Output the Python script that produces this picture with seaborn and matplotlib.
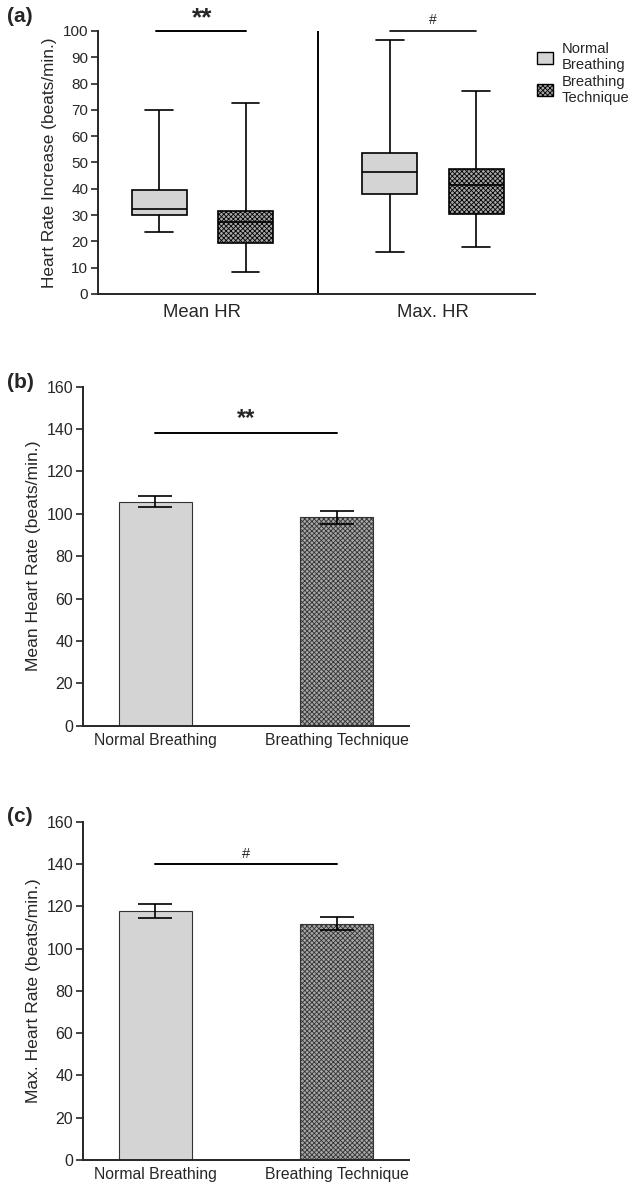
import pandas as pd
import matplotlib.pyplot as plt
import seaborn as sns
from matplotlib.patches import Patch

# five-number summaries (min, Q1, median, Q3, max)
metrics = ['Mean HR', 'Max. HR']
conditions = ['Normal Breathing', 'Breathing Technique']
mean_normal = [23.5, 30.0, 32.3, 39.7, 70.0]
mean_technique = [8.3, 19.5, 27.4, 31.6, 72.7]
max_normal = [15.9, 38.1, 46.4, 53.6, 96.5]
max_technique = [17.9, 30.3, 41.4, 47.5, 77.3]

# panel (b) mean heart rate and panel (c) max heart rate (mean, error)
mean_hr = [105.6, 98.3]
mean_hr_err = [2.6, 3.1]
max_hr = [117.9, 111.7]
max_hr_err = [3.3, 3.1]

light = '#d4d4d4'
dark = '#a6a6a6'
hatch = 'xxxxxxx'

sns.set_style('ticks')
plt.rcParams['font.family'] = ['Liberation Sans', 'DejaVu Sans']
plt.rcParams['hatch.linewidth'] = 0.6
plt.rcParams['axes.linewidth'] = 1.4
plt.rcParams['xtick.major.width'] = 1.2
plt.rcParams['ytick.major.width'] = 1.2

fig = plt.figure(figsize=(6.35, 11.83), dpi=100)


def is_dark(p):
    return abs(p.get_facecolor()[0] - int(dark[1:3], 16) / 255) < 0.02


# ---------- (a) box plots ----------
rows = []
for m, cond, vals in [('Mean HR', conditions[0], mean_normal),
                      ('Mean HR', conditions[1], mean_technique),
                      ('Max. HR', conditions[0], max_normal),
                      ('Max. HR', conditions[1], max_technique)]:
    for v in vals:
        rows.append({'metric': m, 'condition': cond, 'value': v})
df_box = pd.DataFrame(rows)

ax1 = fig.add_axes([0.1543, 0.7515, 0.6882, 0.2223])
sns.boxplot(data=df_box, x='metric', y='value', hue='condition', order=metrics,
            hue_order=conditions, whis=(0, 100), width=0.75, gap=0.36,
            palette=[light, dark], linecolor='black', linewidth=1.2,
            legend=False, ax=ax1)
for p in ax1.patches:
    if is_dark(p):
        p.set_hatch(hatch)
ax1.set_xlim(-0.453, 1.4425)
ax1.set_ylim(0, 100)
ax1.set_yticks(range(0, 101, 10))
ax1.axvline(0.5, color='black', lw=1.4)
ax1.set_xlabel('')
ax1.set_ylabel('Heart Rate Increase (beats/min.)', fontsize=12.4, labelpad=4)
ax1.tick_params(axis='x', length=0, labelsize=13.3, pad=7)
ax1.tick_params(axis='y', length=5, labelsize=11, pad=2)
sns.despine(ax=ax1)
ax1.plot([-0.2, 0.187], [100, 100], color='black', lw=1.4, clip_on=False)
ax1.text(0, 100.3, '**', ha='center', va='bottom', fontsize=19, fontweight='bold')
ax1.plot([0.813, 1.187], [100, 100], color='black', lw=1.2, clip_on=False)
ax1.text(1, 101.5, '#', ha='center', va='bottom', fontsize=10)
handles = [Patch(facecolor=light, edgecolor='black', label='Normal\nBreathing'),
           Patch(facecolor=dark, edgecolor='black', hatch=hatch, label='Breathing\nTechnique')]
ax1.legend(handles=handles, loc='upper left', bbox_to_anchor=(0.99, 0.98), frameon=False,
           fontsize=10.6, handlelength=1.1, handleheight=0.9, handletextpad=0.6,
           labelspacing=0.15, borderaxespad=0.0)
fig.text(0.011, 0.994, '(a)', fontsize=15, fontweight='bold', va='top')


def bar_panel(rect, values, errs, ylabel, mark, mark_weight, mark_size, label):
    ax = fig.add_axes(rect)
    d = pd.DataFrame({'condition': conditions, 'value': values})
    sns.barplot(data=d, x='condition', y='value', hue='condition', order=conditions,
                hue_order=conditions, palette=[light, dark], width=0.4,
                edgecolor='#333333', linewidth=0.8, errorbar=None, legend=False, ax=ax)
    for p in ax.patches:
        if is_dark(p):
            p.set_hatch(hatch)
    ax.errorbar(range(len(values)), values, yerr=errs, fmt='none', ecolor='black',
                elinewidth=1.2, capsize=12.5, capthick=1.2)
    ax.set_xlim(-0.4, 1.4)
    ax.set_ylim(0, 160)
    ax.set_yticks(range(0, 161, 20))
    ax.set_xlabel('')
    ax.set_ylabel(ylabel, fontsize=12.6)
    ax.yaxis.set_label_coords(-0.13, 0.5)
    ax.tick_params(axis='x', length=0, pad=5, labelsize=11.3)
    ax.tick_params(axis='y', length=5, pad=2, labelsize=11.5)
    sns.despine(ax=ax)
    top = 138 if mark == '**' else 140
    ax.plot([0, 1], [top, top], color='black', lw=1.4)
    ax.text(0.5, top + 1.5, mark, ha='center', va='bottom', fontsize=mark_size,
            fontweight=mark_weight)
    fig.text(0.011, rect[1] + rect[3] + 0.012, label, fontsize=15, fontweight='bold', va='top')
    return ax


bar_panel([0.1307, 0.3866, 0.5133, 0.2865], mean_hr, mean_hr_err,
          'Mean Heart Rate (beats/min.)', '**', 'bold', 17, '(b)')
bar_panel([0.1307, 0.01944, 0.5133, 0.2860], max_hr, max_hr_err,
          'Max. Heart Rate (beats/min.)', '#', 'normal', 10.5, '(c)')

fig.savefig('out.png', dpi=100)
